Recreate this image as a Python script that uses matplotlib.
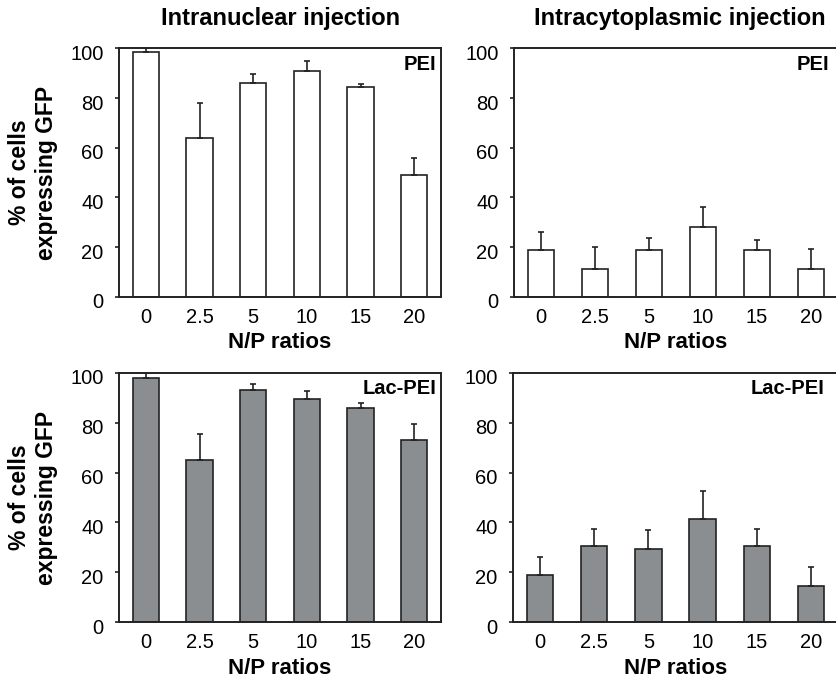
import matplotlib
matplotlib.use("Agg")
import matplotlib.pyplot as plt
import matplotlib.transforms as mtrans
import numpy as np

plt.rcParams['font.family'] = ['Liberation Sans', 'DejaVu Sans']

ratios = ['0', '2.5', '5', '10', '15', '20']

nuc_pei = [98.6, 64, 86, 91, 84.5, 49]
nuc_pei_err = [1.6, 14, 3.6, 4, 1, 7]

cyto_pei = [19, 11, 19, 28, 19, 11]
cyto_pei_err = [7.2, 9, 4.8, 8.3, 3.8, 8.3]

nuc_lac = [98, 65, 93, 89.5, 86, 73]
nuc_lac_err = [2, 10.5, 2.5, 3, 2, 6.5]

cyto_lac = [19, 30.5, 29.5, 41.5, 30.5, 14.5]
cyto_lac_err = [7, 7, 7.5, 11, 7, 7.5]

titles = ['Intranuclear injection', 'Intracytoplasmic injection']
W, H = 836, 681
fig = plt.figure(figsize=(W / 100, H / 100), dpi=100)

EDGE = '#222222'


def add_ax(l, t, r, b):
    return fig.add_axes([l / W, 1 - b / H, (r - l) / W, (b - t) / H])


def draw(ax, vals, errs, color, show_ylabel):
    x = np.arange(len(ratios))
    ax.bar(x, vals, width=0.485, color=color, edgecolor=EDGE, linewidth=1.2, zorder=2)
    ax.errorbar(x, vals, yerr=[np.zeros(len(vals)), errs], fmt='none',
                ecolor=EDGE, elinewidth=1.2, capsize=2.5, capthick=1.2, zorder=3)
    ax.set_xlim(-0.5, len(ratios) - 0.5)
    ax.set_ylim(0, 100)
    ax.set_yticks([0, 20, 40, 60, 80, 100])
    ax.set_xticks(x)
    ax.set_xticklabels(ratios)
    ax.tick_params(axis='y', direction='out', length=3, width=1.2, color=EDGE,
                   labelsize=14.5, pad=8)
    ax.tick_params(axis='x', length=0, labelsize=14.5, pad=8)
    shift = mtrans.ScaledTranslation(0, -3 / 72, fig.dpi_scale_trans)
    for lab in ax.get_yticklabels():
        lab.set_transform(lab.get_transform() + shift)
    for s in ax.spines.values():
        s.set_linewidth(1.4)
        s.set_color(EDGE)
    ax.set_xlabel('N/P ratios', fontsize=16, fontweight='bold', labelpad=4)
    if show_ylabel:
        ax.set_ylabel('% of cells\nexpressing GFP', fontsize=16.5, fontweight='bold',
                      labelpad=9, linespacing=1.2)
    return ax


ax1 = add_ax(119, 48.3, 441, 296.7)
ax2 = add_ax(514, 48.3, 838, 296.7)
ax3 = add_ax(119, 372.7, 441, 622.3)
ax4 = add_ax(513, 372.7, 838, 622.3)

draw(ax1, nuc_pei, nuc_pei_err, 'white', True)
draw(ax2, cyto_pei, cyto_pei_err, 'white', False)
draw(ax3, nuc_lac, nuc_lac_err, '#8b8e90', True)
draw(ax4, cyto_lac, cyto_lac_err, '#8b8e90', False)

# panel labels
fig.text(436 / W, 1 - 55 / H, 'PEI', ha='right', va='top', fontsize=14.5, fontweight='bold')
fig.text(829 / W, 1 - 55 / H, 'PEI', ha='right', va='top', fontsize=14.5, fontweight='bold')
fig.text(437 / W, 1 - 379 / H, 'Lac-PEI', ha='right', va='top', fontsize=14.5, fontweight='bold')
fig.text(825 / W, 1 - 379 / H, 'Lac-PEI', ha='right', va='top', fontsize=14.5, fontweight='bold')

# column titles
fig.text(281 / W, 1 - 18 / H, titles[0], ha='center', va='center', fontsize=17, fontweight='bold')
fig.text(680 / W, 1 - 18 / H, titles[1], ha='center', va='center', fontsize=17, fontweight='bold')

fig.savefig('out.png', dpi=100)
